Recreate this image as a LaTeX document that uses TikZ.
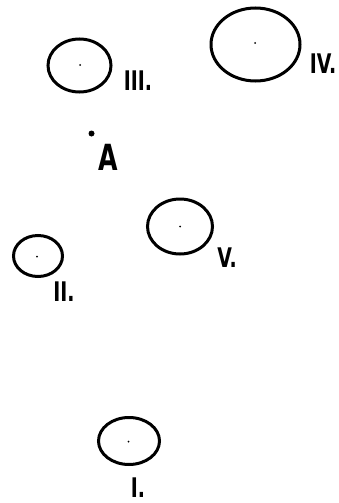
\documentclass[tikz,border=0pt]{standalone}
\usepackage{fontspec}
\newfontfamily\lab[FakeStretch=0.7]{DejaVu Sans}
\begin{document}
\begin{tikzpicture}[x=1pt,y=-1pt,
  orb/.style={draw=black,line width=3pt},
  ctr/.style={fill=black,circle,inner sep=0pt,minimum size=2pt},
  num/.style={inner sep=0pt,font=\lab\bfseries\fontsize{27}{27}\selectfont}]
\useasboundingbox (0,0) rectangle (338,503);
% III
\draw[orb] (79.5,65.5) ellipse [x radius=31.5,y radius=26.5];
\node[ctr] (c3) at (80,65) {};
\node[num] (l3) at (138,81) {III.};
% IV
\draw[orb] (255.5,44.5) ellipse [x radius=44.5,y radius=36.5];
\node[ctr] (c4) at (255,43) {};
\node[num] (l4) at (323,64) {IV.};
% A
\node[fill=black,circle,inner sep=0pt,minimum size=6pt] (a) at (91.5,133.5) {};
\node[inner sep=0pt,font=\lab\bfseries\fontsize{36}{36}\selectfont] (la) at (108,157) {A};
% V
\draw[orb] (180,226.5) ellipse [x radius=32.5,y radius=27.5];
\node[ctr] (c5) at (180,226.5) {};
\node[num] (l5) at (227,258) {V.};
% II
\draw[orb] (38,256) ellipse [x radius=24.5,y radius=20.5];
\node[ctr] (c2) at (37,256.5) {};
\node[num] (l2) at (64,292) {II.};
% I
\draw[orb] (129,441) ellipse [x radius=30.5,y radius=23.5];
\node[ctr] (c1) at (128.5,441.5) {};
\node[num] (l1) at (138,487.5) {I.};
\end{tikzpicture}
\end{document}
